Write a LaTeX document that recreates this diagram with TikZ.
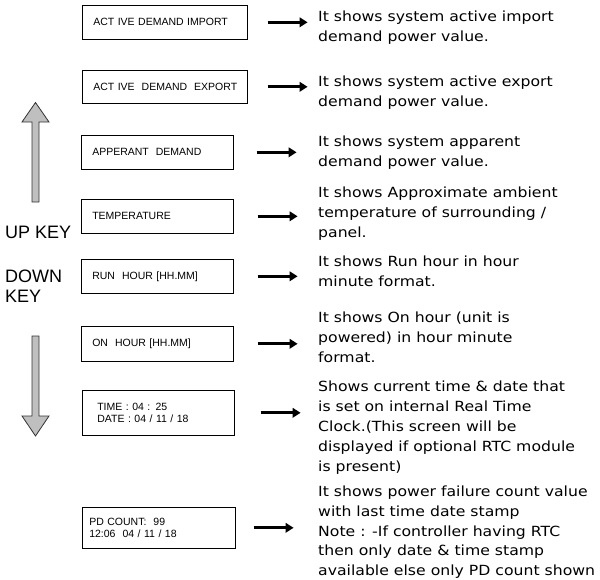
\documentclass[tikz,border=0pt]{standalone}
\usepackage{fontspec}
\setmainfont{Liberation Sans}
\newfontfamily\descfont[FakeStretch=1.12]{DejaVu Sans}
\usetikzlibrary{arrows.meta,positioning}

\tikzset{
  screen/.style={draw, line width=0.6pt, anchor=north west, align=left,
    inner xsep=11pt, text width=130pt, minimum height=34pt,
    font=\fontsize{10.5}{12}\selectfont},
  info/.style={anchor=north west, align=left, inner sep=0pt,
    font=\descfont\fontsize{14}{20}\selectfont},
  pointer/.style={-{Triangle[length=8pt,width=9.5pt]}, line width=2.7pt},
  keyarrow/.style={draw=black!80, fill=black!25, line width=0.8pt},
  keylabel/.style={anchor=north west, align=left, inner sep=0pt,
    font=\fontsize{18}{20}\selectfont}
}

\begin{document}
\begin{tikzpicture}[x=1pt, y=-1pt]
  \useasboundingbox (0,0) rectangle (600,579);

  % screens
  \node[screen, text width=143pt] (imp) at (82,5) {ACT IVE DEMAND IMPORT};
  \node[screen, text width=143pt, minimum height=33pt] (exp) at (82,70) {\mbox{ACT IVE\ \ DEMAND\ \ EXPORT}};
  \node[screen] (app) at (81,135) {APPERANT\ \ DEMAND};
  \node[screen] (temp) at (81,199) {TEMPERATURE};
  \node[screen] (run) at (81,259) {RUN\ \ HOUR [HH.MM]};
  \node[screen, minimum height=35pt] (on) at (81,326) {ON\ \ HOUR [HH.MM]};
  \node[screen, inner xsep=15pt, text width=122pt, minimum height=45pt] (clock) at (82,390)
    {TIME : 04 : 25\\DATE : 04 / 11 / 18};
  \node[screen, inner xsep=7pt, text width=139pt, minimum height=41pt] (pd) at (82,507)
    {PD COUNT:\ \ 99\\12:06\ \ 04 / 11 / 18};

  % descriptions
  \node[info] (dimp) at (318,11) {It shows system active import\\demand power value.};
  \node[info] (dexp) at (318,76) {It shows system active export\\demand power value.};
  \node[info] (dapp) at (318,136) {It shows system apparent\\demand power value.};
  \node[info] (dtemp) at (318,187) {It shows Approximate ambient\\temperature of surrounding /\\panel.};
  \node[info] (drun) at (318,256) {It shows Run hour in hour\\minute format.};
  \node[info] (don) at (318,312) {It shows On hour (unit is\\powered) in hour minute\\format.};
  \node[info] (dclock) at (318,381) {Shows current time \& date that\\is set on internal Real Time\\Clock.(This screen will be\\displayed if optional RTC module\\is present)};
  \node[info, font=\descfont\fontsize{14}{19.6}\selectfont] (dpd) at (318,486) {It shows power failure count value\\with last time date stamp\\Note : -If controller having RTC\\then only date \& time stamp\\available else only PD count shown};

  % pointers
  \draw[pointer] ([xshift=20pt]imp.east) -- +(40,0);
  \draw[pointer] ([xshift=20pt]exp.east) -- +(40,0);
  \draw[pointer] ([xshift=23pt]app.east) -- +(40,0);
  \draw[pointer] ([xshift=24pt]temp.east) -- +(40,0);
  \draw[pointer] ([xshift=24pt]run.east) -- +(40,0);
  \draw[pointer] ([xshift=24pt]on.east) -- +(40,0);
  \draw[pointer] ([xshift=26pt]clock.east) -- +(40,0);
  \draw[pointer] ([xshift=18pt]pd.east) -- +(40,0);

  % up / down keys
  \draw[keyarrow] (32,202) -- (32,122) -- (22,122) -- (35.5,102.5) -- (49,122)
    -- (39,122) -- (39,202) -- cycle;
  \draw[keyarrow] (32,336) -- (32,416) -- (22,416) -- (35.5,436) -- (49,416)
    -- (39,416) -- (39,336) -- cycle;
  \node[keylabel] (up) at (5,226) {UP KEY};
  \node[keylabel] (down) at (5,270) {DOWN\\KEY};
\end{tikzpicture}
\end{document}
